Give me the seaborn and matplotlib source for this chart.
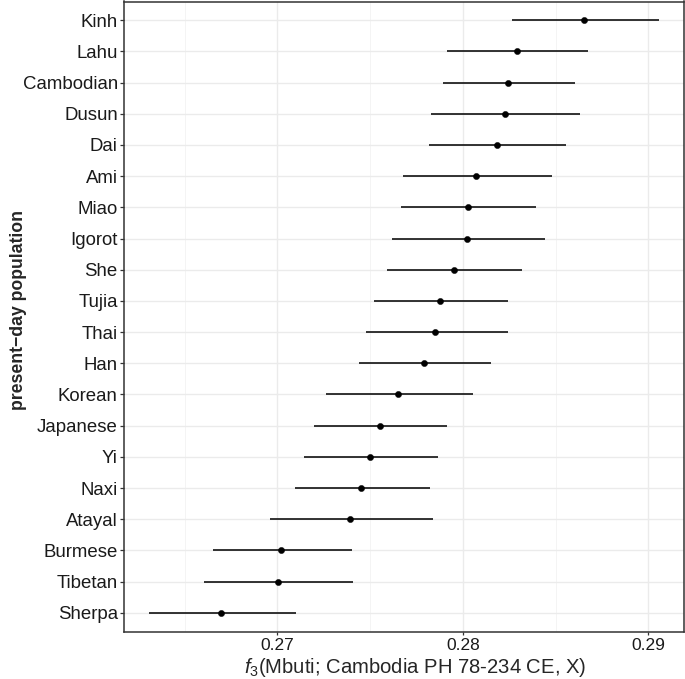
"""
f3 outgroup statistics: point estimates with error bars per population
"""
import matplotlib
matplotlib.use("Agg")
import matplotlib.pyplot as plt
import seaborn as sns
import pandas as pd

populations = ["Kinh", "Lahu", "Cambodian", "Dusun", "Dai", "Ami", "Miao",
               "Igorot", "She", "Tujia", "Thai", "Han", "Korean", "Japanese",
               "Yi", "Naxi", "Atayal", "Burmese", "Tibetan", "Sherpa"]
f3_est = [0.28656, 0.28290, 0.28241, 0.28226, 0.28182, 0.28073, 0.28026,
          0.28024, 0.27950, 0.27877, 0.27851, 0.27788, 0.27653, 0.27554,
          0.27500, 0.27453, 0.27394, 0.27021, 0.27002, 0.26698]
f3_lo = [0.28264, 0.27917, 0.27892, 0.27830, 0.27818, 0.27677, 0.27665,
         0.27616, 0.27592, 0.27521, 0.27476, 0.27439, 0.27262, 0.27200,
         0.27142, 0.27097, 0.26960, 0.26653, 0.26606, 0.26309]
f3_hi = [0.29059, 0.28675, 0.28604, 0.28630, 0.28559, 0.28479, 0.28394,
         0.28443, 0.28321, 0.28245, 0.28245, 0.28153, 0.28057, 0.27917,
         0.27868, 0.27825, 0.27840, 0.27401, 0.27408, 0.27099]

df = pd.DataFrame({"pop": populations, "f3": f3_est, "lo": f3_lo, "hi": f3_hi})

sns.set_theme(style="whitegrid")
plt.rcParams["font.family"] = ["Liberation Sans", "DejaVu Sans"]
plt.rcParams["mathtext.fontset"] = "custom"
plt.rcParams["mathtext.rm"] = "Liberation Sans"
plt.rcParams["mathtext.it"] = "Liberation Sans:italic"

fig, ax = plt.subplots(figsize=(6.85, 6.79), dpi=100)
fig.subplots_adjust(left=124 / 685, right=683.7 / 685, top=1 - 1.5 / 679, bottom=1 - 631.5 / 679)

ax.hlines(df["pop"], df["lo"], df["hi"], color="#111111", lw=1.2, zorder=3)
sns.scatterplot(data=df, x="f3", y="pop", ax=ax, color="black", s=20,
                edgecolor="black", linewidth=0.3, zorder=4)

n = len(populations)
ax.set_ylim(n - 0.4, -0.6)
ax.set_xlim(0.26173, 0.29191)
ax.set_xticks([0.27, 0.28, 0.29])
ax.set_xticklabels(["0.27", "0.28", "0.29"])
ax.set_xticks([0.265, 0.275, 0.285], minor=True)

ax.grid(True, which="major", color="#EBEBEB", lw=1.0)
ax.grid(True, which="minor", axis="x", color="#F2F2F2", lw=0.6)
ax.set_axisbelow(True)
for s in ax.spines.values():
    s.set_color("#333333")
    s.set_linewidth(1.1)

ax.tick_params(axis="both", which="major", color="#333333", width=0.9, left=True, bottom=True)
ax.tick_params(axis="y", length=3, pad=1.5, labelsize=13.4, labelcolor="#1a1a1a")
ax.tick_params(axis="x", length=2.5, pad=2.5, labelsize=12.5, labelcolor="#1a1a1a")
ax.tick_params(axis="x", which="minor", length=0)

ax.set_xlabel(r"$f_3$(Mbuti; Cambodia PH 78-234 CE, X)", fontsize=14.6)
ax.xaxis.label.set_verticalalignment("center")
ax.xaxis.set_label_coords(0.52, -0.057)
ax.set_ylabel("present\u2212day population", fontsize=12.7, fontweight="bold")
ax.yaxis.label.set_verticalalignment("center")
ax.yaxis.set_label_coords(-0.188, 0.51)

fig.savefig("out.png", dpi=100)
